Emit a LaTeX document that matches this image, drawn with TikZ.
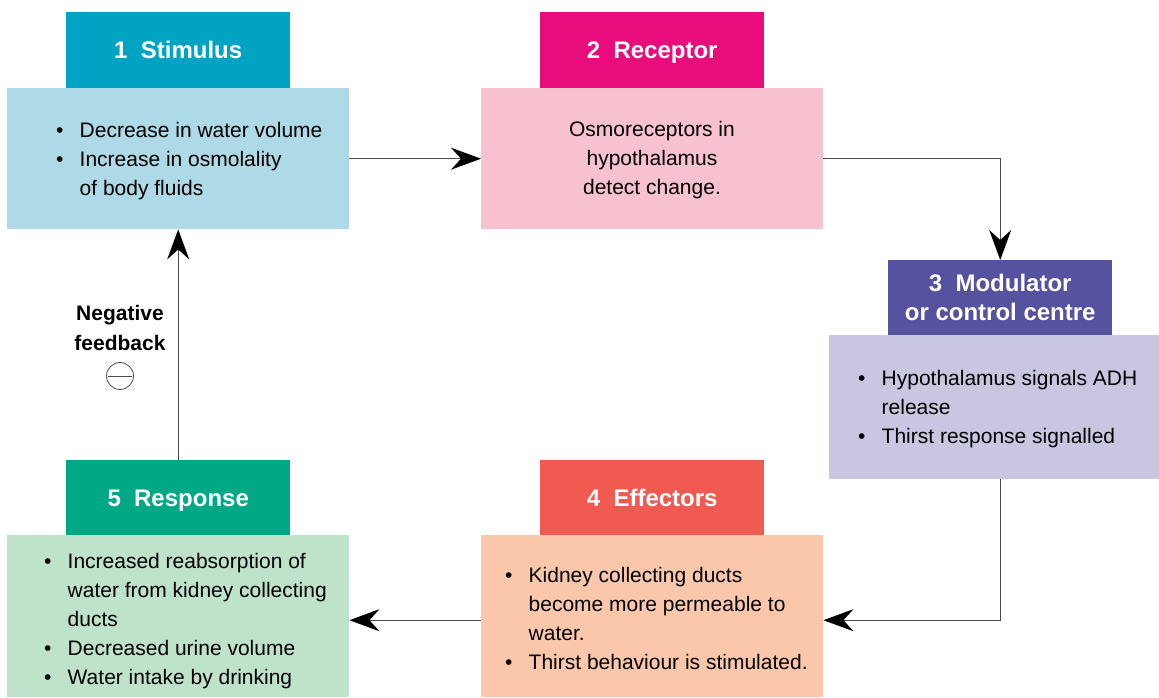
\documentclass[tikz,border=0pt]{standalone}
\usepackage{fontspec}
\setmainfont{Liberation Sans}
\usetikzlibrary{arrows.meta}

\definecolor{stimHead}{HTML}{00A3C2}
\definecolor{stimBody}{HTML}{AED9E6}
\definecolor{recHead}{HTML}{E90C7C}
\definecolor{recBody}{HTML}{F8C1D0}
\definecolor{modHead}{HTML}{56529F}
\definecolor{modBody}{HTML}{C9C6E1}
\definecolor{effHead}{HTML}{F15A50}
\definecolor{effBody}{HTML}{FBC7AA}
\definecolor{resHead}{HTML}{00A886}
\definecolor{resBody}{HTML}{BEE2CA}
\definecolor{wire}{HTML}{4A4A4A}

\newcommand{\bodyfont}{\fontsize{21}{29}\selectfont}
\newenvironment{bullets}{\bodyfont\begin{tabular}{@{}p{23.5pt}@{}l@{}}}{\end{tabular}}
\newcommand{\bitem}{\textbullet &}
% strut that centres capitals in a heading line
\newcommand{\hs}{\rule[-5.9pt]{0pt}{29pt}}

\begin{document}
\begin{tikzpicture}[x=1pt,y=-1pt,
  head/.style={anchor=north west,minimum width=224pt,minimum height=76pt,
    inner sep=0pt,text=white,font=\bfseries\fontsize{24}{29}\selectfont,align=center},
  panel/.style={anchor=north west,inner sep=0pt},
  flow/.style={draw=wire,line width=1.1pt,
    -{Stealth[length=30pt,width=22pt,inset=10pt,black]}}]
\useasboundingbox (0,0) rectangle (1159,697);

% panels
\node[panel,fill=stimBody,minimum width=342pt,minimum height=141pt] (s1) at (7,88) {};
\node[panel,fill=recBody,minimum width=342pt,minimum height=141pt] (r1) at (481,88) {};
\node[panel,fill=modBody,minimum width=330pt,minimum height=144pt] (m1) at (829,335) {};
\node[panel,fill=effBody,minimum width=342pt,minimum height=162pt] (e1) at (481,535) {};
\node[panel,fill=resBody,minimum width=342pt,minimum height=162pt] (p1) at (7,535) {};

% headings
\node[head,fill=stimHead] (h1) at (66,12) {\hs1\ \ Stimulus};
\node[head,fill=recHead] (h2) at (540,12) {\hs2\ \ Receptor};
\node[head,fill=modHead,minimum height=75pt] (h3) at (888,260) {\hs3\ \ Modulator\\\hs or control centre};
\node[head,fill=effHead,minimum height=75pt] (h4) at (540,460) {\hs4\ \ Effectors};
\node[head,fill=resHead,minimum height=75pt] (h5) at (66,460) {\hs5\ \ Response};

% panel texts
\node[anchor=west,inner sep=0pt] (t1) at (56,160.5) {\begin{bullets}
\bitem Decrease in water volume\\
\bitem Increase in osmolality\\
 & of body fluids
\end{bullets}};
\node[inner sep=0pt,align=center,font=\bodyfont] (t2) at (652,160.5) {Osmoreceptors in\\hypothalamus\\detect change.};
\node[anchor=west,inner sep=0pt] (t3) at (858,408.5) {\begin{bullets}
\bitem Hypothalamus signals ADH\\
 & release\\
\bitem Thirst response signalled
\end{bullets}};
\node[anchor=west,inner sep=0pt] (t4) at (505,620) {\begin{bullets}
\bitem Kidney collecting ducts\\
 & become more permeable to\\
 & water.\\
\bitem Thirst behaviour is stimulated.
\end{bullets}};
\node[anchor=west,inner sep=0pt] (t5) at (44,620.5) {\begin{bullets}
\bitem Increased reabsorption of\\
 & water from kidney collecting\\
 & ducts\\
\bitem Decreased urine volume\\
\bitem Water intake by drinking
\end{bullets}};

% feedback label
\node[align=center,font=\bfseries\fontsize{21}{30}\selectfont] (nf) at (120,328) {Negative\\feedback};
\node[circle,draw=wire,line width=0.8pt,minimum size=27pt,inner sep=0pt] (neg) at (120,376) {};
\draw[wire,line width=0.8pt] ([xshift=1.5pt]neg.west) -- ([xshift=-1.5pt]neg.east);

% connectors
\draw[flow] (s1.east) -- (r1.west);
\draw[flow] (r1.east) -| (h3.north);
\draw[flow] (m1.south -| h3.south) |- ([yshift=-4pt]e1.east);
\draw[flow] ([yshift=-4pt]e1.west) -- ([yshift=-4pt]p1.east);
\draw[flow] (h5.north) -- (s1.south -| h5.north);
\end{tikzpicture}
\end{document}
